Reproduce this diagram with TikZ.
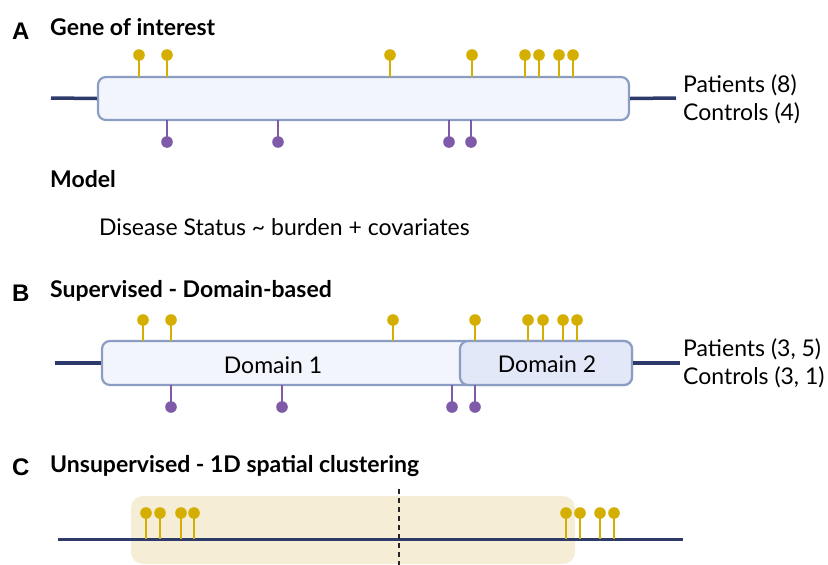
\documentclass[tikz,border=0pt]{standalone}
\usepackage{fontspec}
\setmainfont{Lato}
\newfontfamily\letterfont{Liberation Sans}
\usetikzlibrary{positioning}

\definecolor{navy}{HTML}{2E3A6A}
\definecolor{boxedge}{HTML}{8C9DC3}
\definecolor{boxfill}{HTML}{F2F5FB}
\definecolor{domfill}{HTML}{E3E8F8}
\definecolor{mutyel}{HTML}{D4AE00}
\definecolor{mutpur}{HTML}{7E5AA8}
\definecolor{clusfill}{HTML}{F5EDD5}

\tikzset{
  panel/.style={font=\letterfont\bfseries\fontsize{24}{28}\selectfont, anchor=base west, inner sep=0},
  title/.style={font=\bfseries\fontsize{23}{27}\selectfont, anchor=base west, inner sep=0},
  plain/.style={font=\fontsize{23}{27}\selectfont, anchor=base west, inner sep=0},
  genebox/.style={draw=boxedge, fill=boxfill, line width=2.2pt, rounded corners=8pt, inner sep=0},
  backbone/.style={navy, line width=3.5pt},
  stemyel/.style={mutyel, line width=2.4pt},
  stempur/.style={mutpur, line width=2.4pt},
}

\begin{document}
\begin{tikzpicture}[x=1pt,y=-1pt]
  \useasboundingbox (0,0) rectangle (828,565);

  % Panel A
  \node[panel] (letA) at (12,39) {A};
  \node[title] (titleA) at (50,35) {Gene of interest};

  % Draw gene
  \coordinate (startA) at (51,98);
  \coordinate (endA) at (676,98);
  \node[genebox, minimum width=531pt, minimum height=43pt] (geneA) at (363.5,98.5) {};
  \draw[backbone] (startA) -- (geneA.west);
  \draw[backbone] (geneA.east) -- (endA);

  % Draw variants
  \foreach \x in {139,167,390,472,525,539,559,573} {
    \draw[stemyel] (\x,77) -- (\x,55);
    \fill[mutyel] (\x,55) circle (5.8);
  }
  \foreach \x in {167,278,449,471} {
    \draw[stempur] (\x,120) -- (\x,142);
    \fill[mutpur] (\x,142) circle (5.8);
  }

  \node[plain] (patA) at (683,92) {Patients (8)};
  \node[plain] (conA) at (683,120) {Controls (4)};

  % Model
  \node[title] (model) at (50,187) {Model};
  \node[plain] (formula) at (99,235) {Disease Status \char`\~{} burden + covariates};

  % Panel B
  \node[panel] (letB) at (12,301) {B};
  \node[title] (titleB) at (50,297) {Supervised - Domain-based};

  % Draw domains
  \coordinate (startB) at (55,363);
  \coordinate (endB) at (680,363);
  \node[genebox, minimum width=530pt, minimum height=44pt] (dom1) at (367,363) {};
  \node[genebox, fill=domfill, minimum width=172pt, minimum height=44pt] (dom2) at (546,363) {};
  \draw[backbone] (startB) -- (dom1.west);
  \draw[backbone] (dom2.east) -- (endB);
  \node[plain, anchor=base] (lab1) at (273,373) {Domain 1};
  \node[plain, anchor=base] (lab2) at (547,372) {Domain 2};

  \foreach \x in {143,171,393,475,528,543,563,577} {
    \draw[stemyel] (\x,341) -- (\x,320);
    \fill[mutyel] (\x,320) circle (5.8);
  }
  \foreach \x in {171,282,452,475} {
    \draw[stempur] (\x,385) -- (\x,407);
    \fill[mutpur] (\x,407) circle (5.8);
  }

  \node[plain] (patB) at (683,356) {Patients (3, 5)};
  \node[plain] (conB) at (683,384) {Controls (3, 1)};

  % Panel C
  \node[panel] (letC) at (12,475) {C};
  \node[title] (titleC) at (50,472) {Unsupervised - 1D spatial clustering};

  % Draw cluster
  \fill[clusfill, rounded corners=12pt] (131,496) rectangle (575,564);
  \coordinate (startC) at (58,539);
  \coordinate (endC) at (683,539);
  \draw[backbone, line width=3pt] (startC) -- (endC);
  \foreach \x in {146,160,181,194,566,580,600,614} {
    \draw[stemyel] (\x,539) -- (\x,513);
    \fill[mutyel] (\x,513) circle (5.8);
  }
  \coordinate (cutTop) at (399,489);
  \coordinate (cutBot) at (399,565);
  \draw[black!85, line width=2pt, dash pattern=on 5pt off 4pt] (cutTop) -- (cutBot);
\end{tikzpicture}
\end{document}
